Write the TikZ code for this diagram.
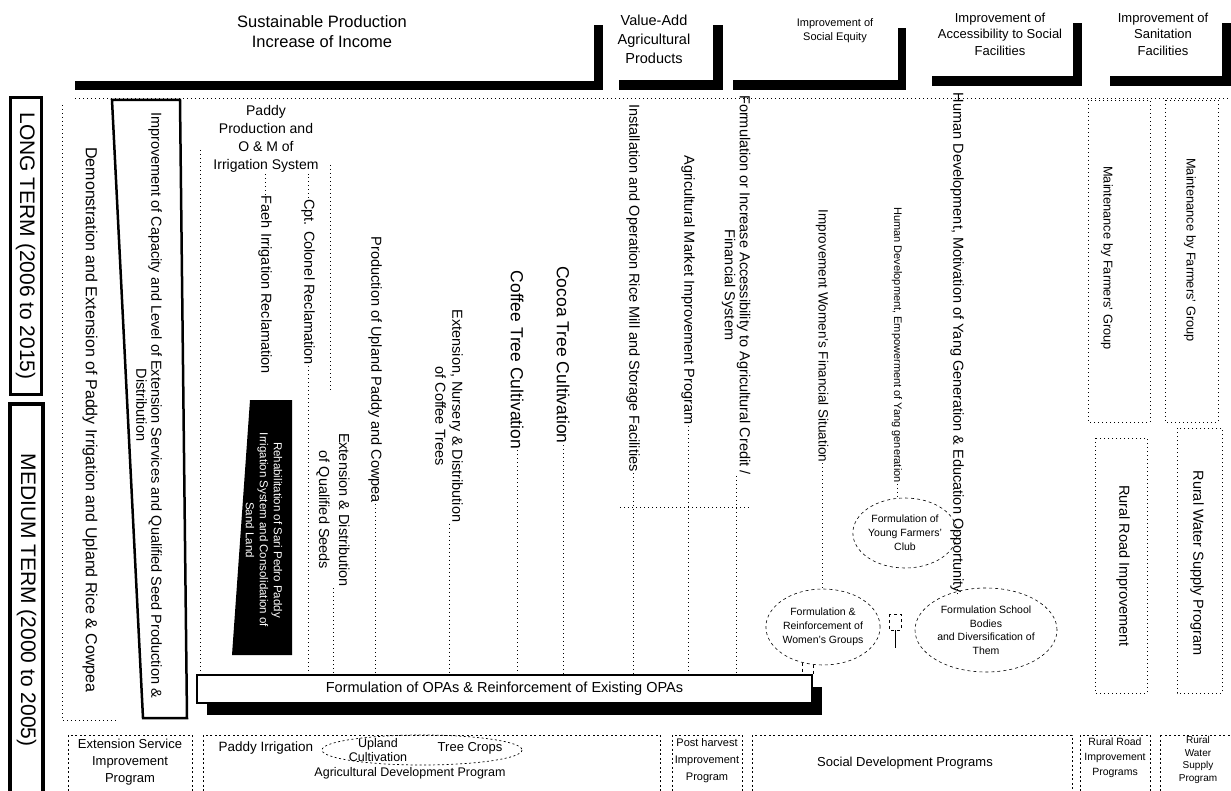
\documentclass[tikz,border=0pt]{standalone}
\usepackage{fontspec}
\setmainfont{Liberation Sans}
\usetikzlibrary{shapes.geometric,calc}
\begin{document}
\begin{tikzpicture}[x=1pt,y=-1pt,
  every node/.style={inner sep=1pt},
  hdrA/.style={align=center,font=\fontsize{16.5}{20}\selectfont},
  hdrB/.style={align=center,font=\fontsize{14.5}{19}\selectfont},
  hdrC/.style={align=center,font=\fontsize{11}{14}\selectfont},
  hdrD/.style={align=center,font=\fontsize{13}{16.5}\selectfont},
  vtext/.style={rotate=-90,align=center,font=\fontsize{14.5}{17}\selectfont},
  vbig/.style={rotate=-90,font=\fontsize{17.5}{20}\selectfont},
  termtext/.style={rotate=-90,font=\fontsize{21}{24}\selectfont},
  bubble/.style={ellipse,draw,dashed,line width=0.6pt,align=center,inner sep=0pt,
    font=\fontsize{10.5}{14}\selectfont},
  progtext/.style={align=center,font=\fontsize{13}{17}\selectfont},
  progbox/.style={draw,dash pattern=on 2pt off 2.5pt,line width=0.7pt},
  dotline/.style={dash pattern=on 1pt off 3pt,line width=0.8pt},
  bar/.style={fill=black}
]
\useasboundingbox (0,0) rectangle (1231,791);
\fill[white] (0,0) rectangle (1231,791);

% ---------- objective headers with heavy shadow edges ----------
\fill[bar] (75,81) rectangle (603,90);   \fill[bar] (594,25) rectangle (603,90);
\fill[bar] (619,80) rectangle (723,90);  \fill[bar] (713,25) rectangle (723,90);
\fill[bar] (733,80) rectangle (906,90);  \fill[bar] (898,28) rectangle (906,90);
\fill[bar] (932,76) rectangle (1082,86); \fill[bar] (1073,23) rectangle (1082,86);
\fill[bar] (1110,76) rectangle (1231,86);\fill[bar] (1222,23) rectangle (1231,86);

\node[hdrA] (goal1) at (322,32) {Sustainable Production\\Increase of Income};
\node[hdrB] (goal2) at (654,39) {Value-Add\\Agricultural\\Products};
\node[hdrC] (goal3) at (835,31) {Improvement of\\Social Equity};
\node[hdrD] (goal4) at (1000,34) {Improvement of\\Accessibility to Social\\Facilities};
\node[hdrD] (goal5) at (1163,34) {Improvement of\\Sanitation\\Facilities};

\draw[dotline] (75,98) -- (1231,98);

% ---------- time frame bars ----------
\draw[line width=3] (10,98) rectangle (41,394);
\node[termtext] (longterm) at (25.5,246) {LONG TERM (2006 to 2015)};
\draw[line width=4] (10,404) rectangle (43,800);
\node[termtext] (midterm) at (26.5,600) {MEDIUM TERM (2000 to 2005)};

% ---------- extension column ----------
\draw[dotline] (62,105) -- (62,720) -- (118,720);
\node[vtext,font=\fontsize{16}{18}\selectfont] (demo) at (90,420) {Demonstration and Extension of Paddy Irrigation and Upland Rice \& Cowpea};
\draw[line width=2.5] (112,100) -- (180,100) -- (187,718) -- (143,718) -- cycle;
\node[vtext,font=\fontsize{14.5}{15}\selectfont] (capacity) at (149,405)
  {Improvement of Capacity and Level of Extension Services and Qualified Seed Production \&\\Distribution};

% ---------- paddy production ----------
\node[align=center,font=\fontsize{14}{18}\selectfont] (paddy) at (266,139)
  {Paddy\\Production and\\O \& M of\\Irrigation System};
\node[vtext] (faeh) at (265,285) {Faeh Irrigation Reclamation};
\node[vtext] (cpt) at (308,282) {Cpt. Colonel Reclamation};
\draw[dotline] (faeh.west) -- (faeh.west |- paddy.south);
\draw[dotline] (cpt.west) -- (cpt.west |- paddy.south);
\draw[dotline] (200,150) -- (200,675);
\draw[dotline] (330,165) -- (330,390);

\fill (250,400) -- (292,400) -- (292,655) -- (232,655) -- cycle;
\node[rotate=-90,align=center,text=white,font=\fontsize{11.5}{14}\selectfont] (rehab) at (264,530)
  {Rehabilitation of Sari Pedro Paddy\\Irrigation System and Consolidation of\\Sand Land};

\node[vtext,font=\fontsize{14.5}{20}\selectfont] (seeds) at (333,510) {Extension \& Distribution\\of Qualified Seeds};
\node[vtext] (upland) at (375,370) {Production of Upland Paddy and Cowpea};
\node[vtext] (nursery) at (449,416) {Extension, Nursery \& Distribution\\of Coffee Trees};
\node[vbig] (coffee) at (517,360) {Coffee Tree Cultivation};
\node[vbig] (cocoa) at (563,355) {Cocoa Tree Cultivation};

% ---------- value-add and social equity ----------
\node[vtext] (ricemill) at (633,288) {Installation and Operation Rice Mill and Storage Facilities};
\node[vtext] (market) at (688,290) {Agricultural Market Improvement Program};
\node[vtext,font=\fontsize{14.5}{15}\selectfont] (credit) at (736,285)
  {Formulation or Increase Accessibility to Agricultural Credit /\\Financial System};
\node[vtext,font=\fontsize{13.5}{16}\selectfont] (womenfin) at (822,336) {Improvement Women's Financial Situation};
\node[vtext,font=\fontsize{11}{13}\selectfont] (empower) at (897,345) {Human Development, Empowerment of Yang generation};
\node[vtext] (motivation) at (957,343) {Human Development, Motivation of Yang Generation \& Education Opportunity};

% ---------- sanitation ----------
\draw[dotline] (1088,100) rectangle (1150,422);
\draw[dotline] (1165,100) rectangle (1218,422);
\node[vtext,font=\fontsize{12.8}{15}\selectfont] (maint1) at (1107,258) {Maintenance by Farmers' Group};
\node[vtext,font=\fontsize{12.8}{15}\selectfont] (maint2) at (1190,250) {Maintenance by Farmers' Group};
\draw[dotline] (1095,438) rectangle (1147,693);
\draw[dotline] (1177,428) rectangle (1222,693);
\node[vtext] (road) at (1123,566) {Rural Road Improvement};
\node[vtext] (water) at (1197,563) {Rural Water Supply Program};

% ---------- groups ----------
\node[bubble,minimum width=104,minimum height=70] (young) at (905,533) {Formulation of\\Young Farmers'\\Club};
\node[bubble,minimum width=114,minimum height=76] (women) at (823,627) {Formulation \&\\Reinforcement of\\Women's Groups};
\node[bubble,minimum width=142,minimum height=84,font=\fontsize{10.5}{13.5}\selectfont] (school) at (986,630)
  {Formulation School\\Bodies\\and Diversification of\\Them};

% ---------- OPA box ----------
\fill (207,687) rectangle (822,715);
\node[draw,line width=1.3pt,fill=white,minimum width=615,minimum height=28,
  font=\fontsize{14.5}{17}\selectfont] (opa) at (504.5,689)
  {Formulation of OPAs \& Reinforcement of Existing OPAs};

% ---------- links down to the OPA box ----------
\foreach \n in {seeds,upland,nursery,coffee,cocoa,ricemill,market,credit}
  \draw[dotline] (\n.east) -- (\n.east |- opa.north);
\draw[dotline] (cpt.east) -- (cpt.east |- opa.north);
\draw[dotline] (620,507) -- (750,507);
\draw[dotline] (womenfin.east) -- (womenfin.east |- women.north);
\draw[dotline] (empower.east) -- (empower.east |- young.north);
\draw[dotline] (motivation.east) -- (motivation.east |- school.north);
\draw[dashed,line width=0.6pt] (women.240) -- (women.240 |- opa.north);
\draw[dashed,line width=0.6pt] (women.255) -- (women.255 |- opa.north);
% small bracket between the two lower groups
\draw[dashed,line width=0.6pt] (889,614) rectangle (901,630);
\draw[line width=0.6pt] (895,630) -- (895,648);

% ---------- programs ----------
\draw[progbox] (68,735) rectangle (192,791);
\node[progtext] (extprog) at (130,762) {Extension Service\\Improvement\\Program};
\draw[progbox] (203,735) rectangle (660,791);
\draw[progbox] (422,750) ellipse [x radius=100, y radius=15];
\node[progtext,font=\fontsize{13.5}{14}\selectfont] (paddyirr) at (266,748) {Paddy Irrigation};
\node[progtext,font=\fontsize{12.5}{14}\selectfont] (uplandcult) at (378,750) {Upland\\Cultivation};
\node[progtext,font=\fontsize{13}{14}\selectfont] (treecrops) at (470,748) {Tree Crops};
\node[progtext,font=\fontsize{12.5}{14}\selectfont] (agriprog) at (410,773) {Agricultural Development Program};
\draw[progbox] (672,735) rectangle (742,791);
\node[progtext,font=\fontsize{11}{17}\selectfont] (post) at (707,761) {Post harvest\\Improvement\\Program};
\draw[progbox] (752,735) rectangle (1072,791);
\node[progtext] (social) at (905,763) {Social Development Programs};
\draw[progbox] (1080,735) rectangle (1150,791);
\node[progtext,font=\fontsize{10.5}{15}\selectfont] (roadprog) at (1115,758) {Rural Road\\Improvement\\Programs};
\draw[progbox] (1160,735) rectangle (1231,791);
\node[progtext,font=\fontsize{10}{12.5}\selectfont] (waterprog) at (1198,760) {Rural\\Water\\Supply\\Program};
\end{tikzpicture}
\end{document}
